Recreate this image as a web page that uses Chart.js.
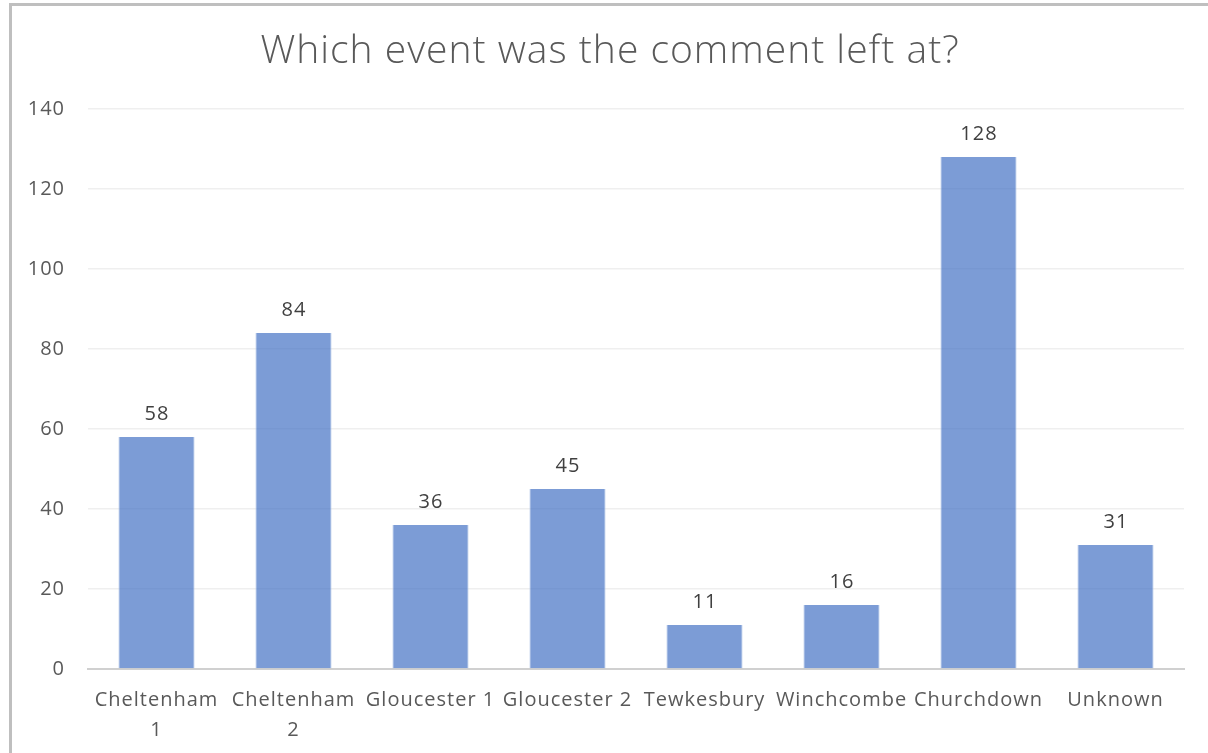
<!DOCTYPE html>
<html lang="en">
<head>
    <meta charset="UTF-8">
    <title>Which event was the comment left at?</title>
    <style>
        body {
            margin: 0;
            padding: 0;
            background-color: #ffffff;
        }
        .wrap {
            position: relative;
            width: 1208px;
            height: 753px;
            overflow: hidden;
        }
        .wrap canvas {
            position: absolute;
            left: 0;
            top: 0;
        }
        .frame {
            position: absolute;
            left: 9px;
            top: 3px;
            width: 1210px;
            height: 760px;
            border-left: 3px solid #bfbfbf;
            border-top: 3px solid #bfbfbf;
            pointer-events: none;
        }
    </style>
</head>
<body>

<div class="wrap">
    <canvas id="grafico" width="1208" height="753"></canvas>
    <div class="frame"></div>
</div>

<script src="https://cdn.jsdelivr.net/npm/chart.js"></script>
<script>
    const titulo = 'Which event was the comment left at?';
    const eventos = [['Cheltenham', '1'], ['Cheltenham', '2'], 'Gloucester 1', 'Gloucester 2', 'Tewkesbury', 'Winchcombe', 'Churchdown', 'Unknown'];
    const comentarios = [58, 84, 36, 45, 11, 16, 128, 31];
    const ticksY = [0, 20, 40, 60, 80, 100, 120, 140];

    // espacamento entre letras, parecido com o original
    const espacamento = {
        id: 'espacamento',
        beforeLayout(chart) { chart.ctx.letterSpacing = '1px'; },
        beforeDraw(chart) { chart.ctx.letterSpacing = '1px'; }
    };

    // titulo desenhado a mao (centro do quadro, nao do grafico)
    const cabecalho = {
        id: 'cabecalho',
        afterDraw(chart) {
            const ctx = chart.ctx;
            ctx.save();
            ctx.letterSpacing = '1px';
            ctx.font = '300 39px "Open Sans"';
            ctx.fillStyle = '#595959';
            ctx.textAlign = 'center';
            ctx.textBaseline = 'middle';
            ctx.fillText(titulo, 610, 52);
            ctx.restore();
        }
    };

    // rotulos de valor em cima de cada barra
    const rotulos = {
        id: 'rotulos',
        afterDatasetsDraw(chart) {
            const ctx = chart.ctx;
            const meta = chart.getDatasetMeta(0);
            ctx.save();
            ctx.letterSpacing = '1px';
            ctx.font = '20px "Open Sans"';
            ctx.fillStyle = '#404040';
            ctx.textAlign = 'center';
            ctx.textBaseline = 'alphabetic';
            meta.data.forEach((bar, i) => {
                ctx.fillText(comentarios[i], bar.x + 0.5, bar.y - 17);
            });
            ctx.restore();
        }
    };

    Chart.defaults.font.family = '"Open Sans", sans-serif';
    Chart.defaults.color = '#595959';

    new Chart(document.getElementById('grafico').getContext('2d'), {
        type: 'bar',
        data: {
            labels: eventos,
            datasets: [{
                data: comentarios,
                backgroundColor: 'rgba(68, 114, 196, 0.7)',
                borderColor: 'rgba(160, 184, 226, 0.9)',
                borderWidth: { left: 1, right: 1, top: 0, bottom: 0 },
                barPercentage: 0.555,
                categoryPercentage: 1
            }]
        },
        options: {
            responsive: false,
            animation: false,
            layout: {
                padding: { left: 0, right: 24, top: 109, bottom: 0 }
            },
            plugins: {
                legend: { display: false },
                tooltip: { enabled: false },
                title: { display: false }
            },
            scales: {
                x: {
                    grid: { display: false, drawTicks: false },
                    border: { display: true, color: '#d0d0d0', width: 2 },
                    ticks: {
                        color: '#595959',
                        font: { size: 20, lineHeight: 1.5 },
                        padding: 16,
                        maxRotation: 0,
                        autoSkip: false
                    },
                    afterFit(scale) {
                        scale.height = 84;
                    }
                },
                y: {
                    min: 0,
                    max: 140,
                    afterBuildTicks(scale) {
                        scale.ticks = ticksY.map(v => ({ value: v }));
                    },
                    grid: { color: '#efefef', lineWidth: 1.5, drawTicks: false },
                    border: { display: false },
                    ticks: {
                        color: '#595959',
                        font: { size: 20 },
                        padding: 23
                    },
                    afterFit(scale) {
                        scale.width = 88;
                    }
                }
            }
        },
        plugins: [espacamento, cabecalho, rotulos]
    });
</script>

</body>
</html>
